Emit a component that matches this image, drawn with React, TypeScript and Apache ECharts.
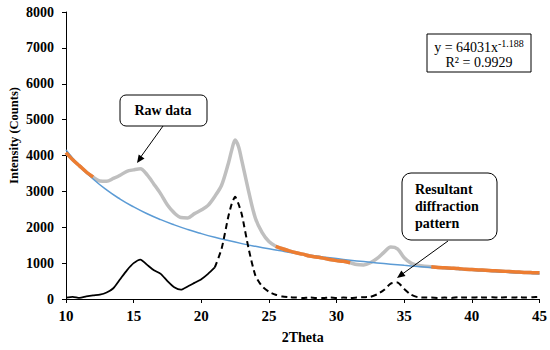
import React, { useEffect, useRef } from "react";
import * as echarts from "echarts";

const xRaw = [10,10.5,11,11.5,12,12.5,13,13.5,14,14.5,15,15.5,16,16.5,17,17.5,18,18.5,19,19.5,20,20.5,21,21.5,22,22.25,22.5,22.75,23,23.5,24,24.5,25,25.5,26,26.5,27,27.5,28,28.5,29,29.5,30,30.5,31,31.5,32,32.5,33,33.5,34,34.5,35,35.5,36,36.5,37,37.5,38,38.5,39,39.5,40,40.5,41,41.5,42,42.5,43,43.5,44,44.5,45];
const rawValues = [4080,3880,3710,3540,3400,3290,3280,3360,3450,3560,3600,3630,3460,3200,2930,2620,2400,2270,2260,2380,2480,2610,2860,3170,3780,4150,4430,4250,3850,3000,2250,1850,1600,1470,1400,1340,1290,1250,1200,1170,1140,1100,1070,1050,1010,960,950,1010,1130,1300,1450,1400,1150,1000,940,910,900,880,870,860,850,830,820,810,800,790,780,770,760,750,740,735,730];
const resultantValues = [40,60,30,70,100,120,180,300,550,800,1000,1100,950,800,700,500,330,260,350,450,550,700,880,1400,2300,2650,2850,2650,2350,1400,650,350,200,120,70,50,40,30,40,30,30,40,30,40,30,40,50,60,130,250,430,460,280,120,50,40,40,30,40,30,50,40,40,50,40,50,40,50,40,50,40,50,60];
const xFit = [10,11,12,13,14,15,16,17,18,19,20,21,22,23,24,25,26,27,28,29,30,31,32,33,34,35,36,37,38,39,40,41,42,43,44,45];
const fitValues = [4153,3709,3345,3041,2785,2566,2376,2211,2066,1937,1823,1720,1628,1544,1468,1398,1335,1276,1222,1172,1126,1083,1043,1006,971,938,907,878,851,825,800,777,755,734,715,696];
const fittedRanges = [[10,12],[25.5,31],[37,45]];
const xTicks = ["10","15","20","25","30","35","40","45"];
const yTicks = ["0","1000","2000","3000","4000","5000","6000","7000","8000"];

const SERIF = "'Liberation Serif', 'Times New Roman', serif";

export default function App() {
  const ref = useRef<HTMLDivElement>(null);
  useEffect(() => {
    if (!ref.current) return;
    const chart = echarts.init(ref.current, null, { renderer: "svg" });
    const raw = xRaw.map((x, i) => [x, rawValues[i]]);
    const orange = xRaw.map((x, i) =>
      fittedRanges.some(([a, b]) => x >= a && x <= b) ? [x, rawValues[i]] : [x, null]
    );
    const res = xRaw.map((x, i) => [x, resultantValues[i]]);
    const resSolid = res.filter((p) => (p[0] as number) <= 21);
    const resDashed = res.filter((p) => (p[0] as number) >= 21);
    const fit = xFit.map((x, i) => [x, fitValues[i]]);
    chart.setOption({
      animation: false,
      backgroundColor: "#fff",
      grid: { left: 66, right: 10, top: 12, bottom: 51 },
      xAxis: {
        type: "value", min: 10, max: 45, interval: 5,
        name: "2Theta", nameLocation: "middle", nameGap: 31,
        nameTextStyle: { fontFamily: SERIF, fontWeight: "bold", fontSize: 14, color: "#000" },
        axisLine: { onZero: false, lineStyle: { color: "#000", width: 1 } },
        axisTick: { show: true, length: 4, lineStyle: { color: "#000" } },
        axisLabel: { fontFamily: SERIF, fontWeight: "bold", fontSize: 15, color: "#000", margin: 9, formatter: (v: number) => xTicks[(v - 10) / 5] },
        splitLine: { show: false },
      },
      yAxis: {
        type: "value", min: 0, max: 8000, interval: 1000,
        axisLine: { show: true, lineStyle: { color: "#000", width: 1 } },
        axisTick: { show: true, length: 4, lineStyle: { color: "#000" } },
        axisLabel: { fontFamily: SERIF, fontWeight: "bold", fontSize: 14, color: "#000", margin: 12, formatter: (v: number) => yTicks[v / 1000] },
        splitLine: { show: false },
      },
      series: [
        { type: "line", data: raw, showSymbol: false, smooth: 0.3, lineStyle: { color: "#bfbfbf", width: 3.5 }, z: 2 },
        { type: "line", data: fit, showSymbol: false, smooth: true, lineStyle: { color: "#5b9bd5", width: 1.5 }, z: 3 },
        { type: "line", data: orange, showSymbol: false, smooth: 0.3, connectNulls: false, lineStyle: { color: "#ed7d31", width: 3.5 }, z: 4 },
        { type: "line", data: resSolid, showSymbol: false, smooth: 0.2, lineStyle: { color: "#000", width: 1.8 }, z: 5 },
        { type: "line", data: resDashed, showSymbol: false, smooth: 0.2, lineStyle: { color: "#000", width: 2, type: [6, 4] }, z: 5 },
      ],
      graphic: [
        { type: "text", x: 14, y: 135.5, rotation: Math.PI / 2, style: { text: "Intensity (Counts)", align: "center", verticalAlign: "middle", fontFamily: SERIF, fontWeight: "bold", fontSize: 12.5, fill: "#000" }, z: 11 },

        { type: "rect", shape: { x: 427, y: 34, width: 104, height: 38 }, style: { fill: "#fff", stroke: "#000", lineWidth: 1 }, z: 10 },
        { type: "text", x: 479, y: 38, style: { text: "{a|y = 64031x}{s|-1.188}", align: "center", rich: { a: { fontFamily: SERIF, fontSize: 14, fill: "#000", verticalAlign: "bottom", lineHeight: 16 }, s: { fontFamily: SERIF, fontSize: 10, fill: "#000", verticalAlign: "top", lineHeight: 16 } } }, z: 11 },
        { type: "text", x: 479, y: 55, style: { text: "R² = 0.9929", align: "center", fontFamily: SERIF, fontSize: 14, fill: "#000" }, z: 11 },

        { type: "rect", shape: { x: 120, y: 95, width: 87, height: 31, r: 6 }, style: { fill: "#fff", stroke: "#000", lineWidth: 1 }, z: 10 },
        { type: "text", x: 163, y: 110, style: { text: "Raw data", align: "center", verticalAlign: "middle", fontFamily: SERIF, fontWeight: "bold", fontSize: 14, fill: "#000" }, z: 11 },
        { type: "line", shape: { x1: 163, y1: 126, x2: 140, y2: 158 }, style: { stroke: "#000", lineWidth: 1 }, z: 10 },
        { type: "polygon", shape: { points: [[137, 163], [144.5, 158.5], [138.7, 154.5]] }, style: { fill: "#000" }, z: 10 },

        { type: "rect", shape: { x: 402, y: 173, width: 95, height: 67, r: 9 }, style: { fill: "#fff", stroke: "#000", lineWidth: 1 }, z: 10 },
        { type: "text", x: 415, y: 181, style: { text: "Resultant\ndiffraction\npattern", align: "left", lineHeight: 17, fontFamily: SERIF, fontWeight: "bold", fontSize: 14, fill: "#000" }, z: 11 },
        { type: "line", shape: { x1: 448, y1: 241, x2: 401, y2: 275 }, style: { stroke: "#000", lineWidth: 1 }, z: 10 },
        { type: "polygon", shape: { points: [[397, 278], [405.5, 276.1], [401.4, 270.5]] }, style: { fill: "#000" }, z: 10 },
      ],
    });
    return () => chart.dispose();
  }, []);
  return <div ref={ref} style={{ width: 550, height: 350, position: "absolute", left: 0, top: 0 }} />;
}
